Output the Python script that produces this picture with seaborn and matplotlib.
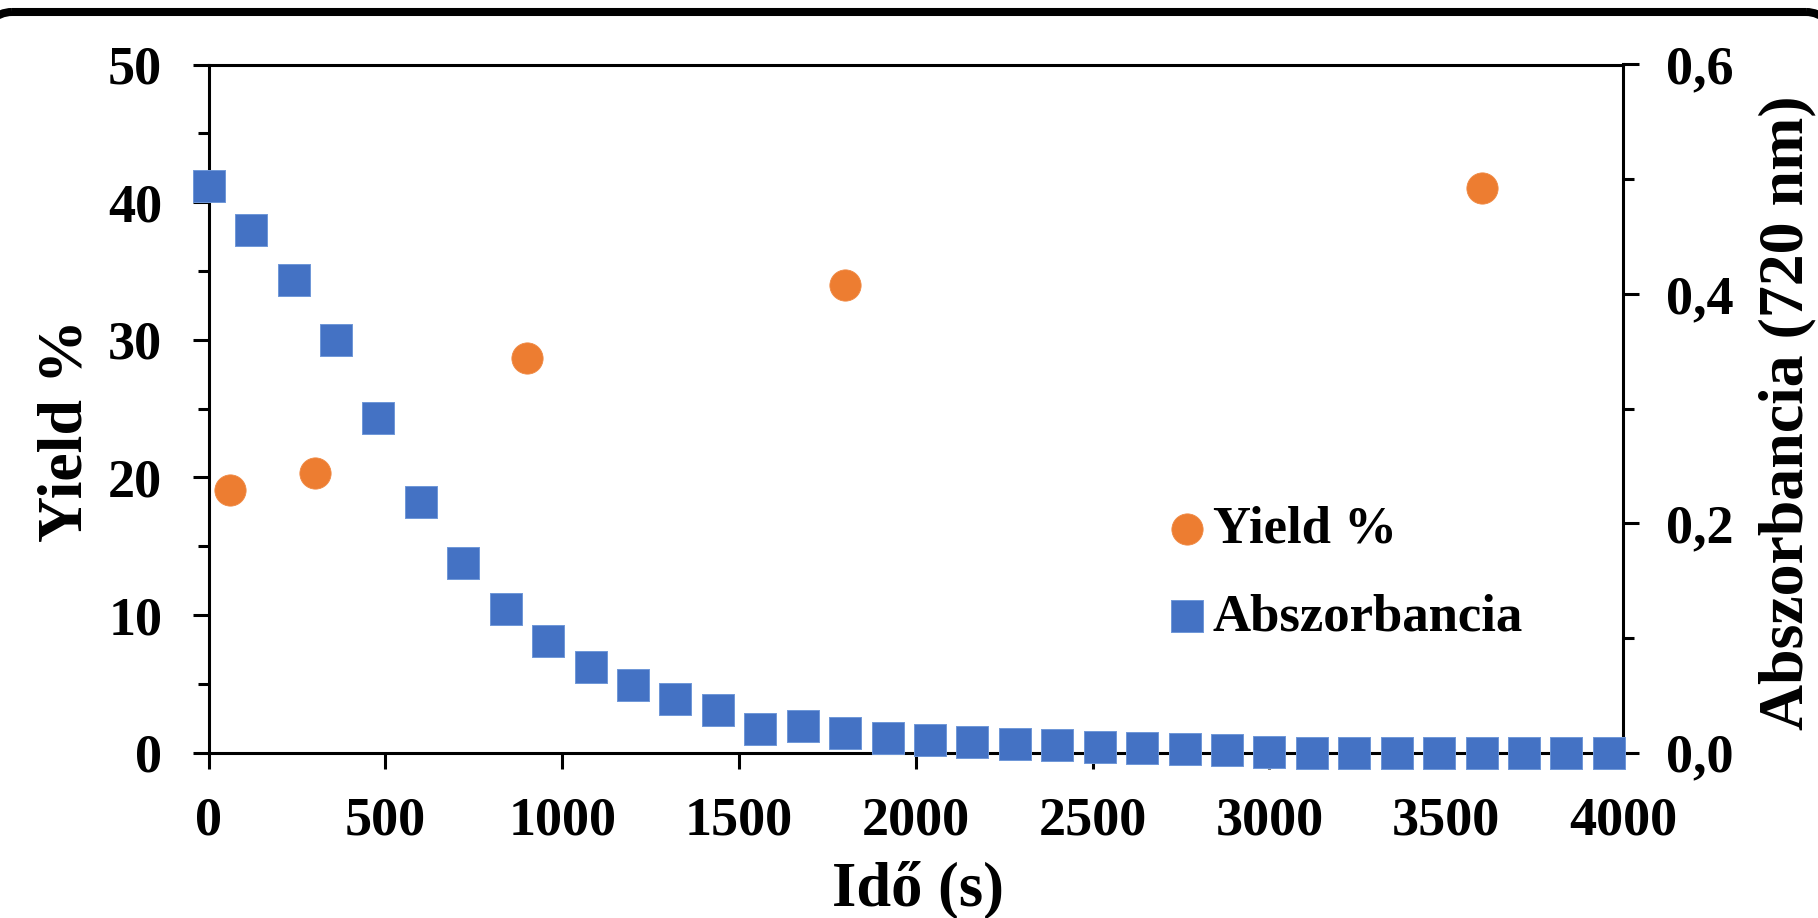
import matplotlib
matplotlib.use("Agg")
import matplotlib.pyplot as plt
import seaborn as sns
from matplotlib.patches import Arc
from matplotlib.lines import Line2D
from matplotlib.ticker import MultipleLocator, FuncFormatter

# ---- data ----
abs_time = [0, 120, 240, 360, 480, 600, 720, 840, 960, 1080, 1200, 1320, 1440,
            1560, 1680, 1800, 1920, 2040, 2160, 2280, 2400, 2520, 2640, 2760,
            2880, 3000, 3120, 3240, 3360, 3480, 3600, 3720, 3840, 3960]
absorbance = [0.494, 0.456, 0.412, 0.360, 0.292, 0.219, 0.165, 0.125, 0.097,
              0.075, 0.059, 0.047, 0.037, 0.021, 0.023, 0.017, 0.013, 0.011,
              0.0096, 0.008, 0.0067, 0.0052, 0.0041, 0.003, 0.0024, 0.001,
              0.0, 0.0, 0.0, 0.0, 0.0, 0.0, 0.0, 0.0]
yield_time = [60, 300, 900, 1800, 3600]
yield_pct = [19.1, 20.3, 28.7, 34.0, 41.0]

x_ticks = [0, 500, 1000, 1500, 2000, 2500, 3000, 3500, 4000]
left_ticks = [0, 10, 20, 30, 40, 50]
right_ticks = [0.0, 0.2, 0.4, 0.6]

sns.set_style("white")
plt.rcParams['font.family'] = ['Liberation Serif', 'DejaVu Serif']
plt.rcParams['font.weight'] = 'bold'
plt.rcParams['axes.labelweight'] = 'bold'
for k in ('text.color', 'axes.labelcolor', 'xtick.color', 'ytick.color',
          'axes.edgecolor'):
    plt.rcParams[k] = 'black'

W, H, DPI = 18.18, 9.18, 100
fig = plt.figure(figsize=(W, H), dpi=DPI)
fig.patch.set_facecolor('white')

L, R = 208.7 / 1818, 1623 / 1818
B, T = 1 - 752.7 / 918, 1 - 64.5 / 918
ax = fig.add_axes([L, B, R - L, T - B])
ax2 = ax.twinx()

blue = '#4472C4'
orange = '#ED7D31'
ms = 22.5

sns.scatterplot(x=yield_time, y=yield_pct, ax=ax, marker='o', s=ms**2,
                color=orange, edgecolor='#f08a45', linewidth=0.6,
                zorder=5, clip_on=False, label='Yield %', legend=False)
sns.scatterplot(x=abs_time, y=absorbance, ax=ax2, marker='s', s=ms**2,
                color=blue, edgecolor='#6f97d8', linewidth=0.7,
                zorder=5, clip_on=False, label='Abszorbancia', legend=False)

ax.set_xlim(0, 4000)
ax.set_ylim(0, 50)
ax2.set_ylim(0, 0.6)
ax.set_xticks(x_ticks)
ax.set_yticks(left_ticks)
ax.yaxis.set_minor_locator(MultipleLocator(5))
ax2.set_yticks(right_ticks)
ax2.yaxis.set_minor_locator(MultipleLocator(0.1))
ax2.yaxis.set_major_formatter(FuncFormatter(lambda v, p: f"{v:.1f}".replace('.', ',')))

lw = 2.2
for a in (ax, ax2):
    for s in a.spines.values():
        s.set_linewidth(lw)
        s.set_color('black')
ax2.spines['left'].set_visible(False)
ax2.spines['bottom'].set_visible(False)
ax2.spines['top'].set_visible(False)
ax.spines['right'].set_visible(False)

ax.tick_params(axis='x', which='major', direction='out', length=11.5, width=lw,
               pad=20, labelsize=39, color='black', labelcolor='black',
               bottom=True, top=False)
ax.tick_params(axis='y', which='major', direction='out', length=11.5, width=lw,
               pad=22, labelsize=39, color='black', labelcolor='black',
               left=True, right=False)
ax.tick_params(axis='y', which='minor', direction='out', length=8, width=lw,
               color='black', left=True, right=False)
ax2.tick_params(axis='y', which='major', direction='out', length=11.5, width=lw,
                pad=19.5, labelsize=39, color='black', labelcolor='black',
                right=True, left=False)
ax2.tick_params(axis='y', which='minor', direction='out', length=8, width=lw,
                color='black', right=True, left=False)
ax.tick_params(axis='x', which='minor', bottom=False)
ax.grid(False)
ax2.grid(False)

pw = 1414.3
ph = 688.2
ax.set_xlabel('Idő (s)', fontsize=45, fontweight='bold', color='black')
ax.xaxis.label.set_va('baseline')
ax.xaxis.set_label_coords((918 - 208.7) / pw, (752.7 - 905) / ph)

ax.set_ylabel('Yield %', fontsize=46, fontweight='bold', color='black')
ax.yaxis.label.set_va('baseline')
ax.yaxis.set_label_coords((81 - 208.7) / pw, (752.7 - 431) / ph)

ax2.set_ylabel('Abszorbancia (720 nm)', fontsize=46, fontweight='bold',
               color='black')
ax2.yaxis.label.set_va('baseline')
ax2.yaxis.label.set_rotation(90)
ax2.yaxis.set_label_coords((1802 - 208.7) / pw, (752.7 - 413) / ph)

h1, l1 = ax.get_legend_handles_labels()
h2, l2 = ax2.get_legend_handles_labels()
leg = ax2.legend(h1 + h2, l1 + l2, loc='center left',
                 bbox_to_anchor=((1168.5 - 208.7) / pw, (752.7 - 573.5) / ph),
                 frameon=False, fontsize=38, handlelength=0.7,
                 handletextpad=0.14, labelspacing=0.75, borderpad=0,
                 borderaxespad=0, scatterpoints=1)
for t in leg.get_texts():
    t.set_fontweight('bold')
    t.set_color('black')

# rounded frame (only its top edge and the start of its corners are visible)
frame_lw = 5.8
ytop = H - 0.12
r = 0.3
cx_l = 0.12
cx_r = W - 0.12
fig.add_artist(Line2D([cx_l, cx_r], [ytop, ytop], transform=fig.dpi_scale_trans,
                      color='black', linewidth=frame_lw, solid_capstyle='butt'))
fig.add_artist(Arc((cx_l, ytop - r), 2 * r, 2 * r, theta1=90, theta2=180,
                   transform=fig.dpi_scale_trans, color='black',
                   linewidth=frame_lw))
fig.add_artist(Arc((cx_r, ytop - r), 2 * r, 2 * r, theta1=0, theta2=90,
                   transform=fig.dpi_scale_trans, color='black',
                   linewidth=frame_lw))

fig.savefig('out.png', dpi=DPI, facecolor='white')
